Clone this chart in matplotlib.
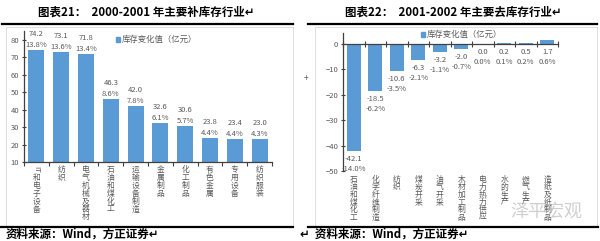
import matplotlib
matplotlib.use('Agg')
import matplotlib.pyplot as plt
from matplotlib.patches import Rectangle
from matplotlib.lines import Line2D
from matplotlib.transforms import blended_transform_factory

plt.rcParams['font.family'] = ['Noto Sans CJK SC', 'DejaVu Sans']

# 图表21 data
cats_l = ['IT和电子设备', '纺织', '电气机械及器材', '石油和煤化工', '运输设备制造',
          '金属制品', '化工制品', '有色金属', '专用设备', '纺织服装']
vals_l = [74.2, 73.1, 71.8, 46.3, 42.0, 32.6, 30.6, 23.8, 23.4, 23.0]
pcts_l = ['13.8%', '13.6%', '13.4%', '8.6%', '7.8%', '6.1%', '5.7%', '4.4%', '4.4%', '4.3%']

# 图表22 data
cats_r = ['石油和煤化工', '化学纤维制造', '纺织', '煤炭开采', '油气开采',
          '木材加工制品', '电力热力供应', '水的生产', '燃气生产', '造纸及纸制品']
vals_r = [-42.1, -18.5, -10.6, -6.3, -3.2, -2.0, 0.0, 0.2, 0.5, 1.7]
pcts_r = ['-14.0%', '-6.2%', '-3.5%', '-2.1%', '-1.1%', '-0.7%', '0.0%', '0.1%', '0.2%', '0.6%']

BLUE = '#5B9BD5'
GREY = '#595959'
W, H = 600, 241

fig = plt.figure(figsize=(6.0, 2.41), dpi=100)


def fx(px):
    return px / W


def fy(py):
    return 1 - py / H


def style_axes(ax):
    for s in ['top', 'right']:
        ax.spines[s].set_visible(False)
    ax.spines['left'].set_color('#404040')
    ax.spines['bottom'].set_color('#404040')
    ax.spines['left'].set_linewidth(0.9)
    ax.spines['bottom'].set_linewidth(0.9)
    ax.tick_params(axis='y', labelsize=5.5, labelcolor=GREY, length=3, width=0.8,
                   direction='inout', color='#404040', pad=2)
    ax.patch.set_alpha(0)


def vertical_label(ax, x, text, ytop_px, step=7.9, size=5.6):
    # stack characters one under another, Excel style
    trans = blended_transform_factory(ax.transData, fig.transFigure)
    y = ytop_px
    if text.startswith('IT'):
        ax.text(x, fy(y), 'IT', rotation=270, ha='center', va='top',
                fontsize=size, color=GREY, transform=trans)
        text = text[2:]
        y += 8
    for ch in text:
        ax.text(x, fy(y + step / 2), ch, ha='center', va='center', fontsize=size,
                color=GREY, transform=trans)
        y += step


def cat_ticks(ax, n, down=3, up=0):
    # tick marks between categories
    ax.set_xticks([k - 0.5 for k in range(n + 1)])
    ax.set_xticklabels([])
    ax.tick_params(axis='x', length=down + up, width=0.8,
                   direction='inout' if up else 'out', color='#404040')


# ---------------- left chart ----------------
axl = fig.add_axes([fx(24), fy(162), fx(272 - 24), fy(31) - fy(162)])
x = list(range(len(vals_l)))
axl.bar(x, [v - 10 for v in vals_l], bottom=10, width=0.65, color=BLUE)
axl.set_xlim(-0.5, len(vals_l) - 0.5)
axl.set_ylim(10, 85)
axl.set_yticks(range(10, 81, 10))
style_axes(axl)
cat_ticks(axl, len(vals_l))
for i, (v, p) in enumerate(zip(vals_l, pcts_l)):
    axl.annotate(f'{v:.1f}', (i, v), xytext=(0, 16), textcoords='offset pixels',
                 ha='center', va='center', fontsize=5.5, color=GREY)
    axl.annotate(p, (i, v), xytext=(0, 5), textcoords='offset pixels',
                 ha='center', va='center', fontsize=5.5, color=GREY)
for i, c in enumerate(cats_l):
    vertical_label(axl, i, c, 166)
fig.patches.append(Rectangle((fx(116), fy(42)), fx(4), fy(37) - fy(42), color=BLUE,
                             transform=fig.transFigure, figure=fig))
fig.text(fx(122), fy(39.5), '库存变化值（亿元）', fontsize=6, color=GREY, va='center')

# ---------------- right chart ----------------
axr = fig.add_axes([fx(343), fy(171), fx(558 - 343), fy(33) - fy(171)])
x = list(range(len(vals_r)))
axr.bar(x, vals_r, width=0.65, color=BLUE)
axr.set_xlim(-0.5, len(vals_r) - 0.5)
axr.set_ylim(-50, 4.3)
axr.set_yticks(range(-50, 1, 10))
style_axes(axr)
axr.spines['bottom'].set_position(('data', 0))
cat_ticks(axr, len(vals_r), down=2, up=2)
for i, (v, p) in enumerate(zip(vals_r, pcts_r)):
    base = min(v, 0)
    axr.annotate(f'{v:.1f}', (i, base), xytext=(0, -8), textcoords='offset pixels',
                 ha='center', va='center', fontsize=5.5, color=GREY)
    axr.annotate(p, (i, base), xytext=(0, -18), textcoords='offset pixels',
                 ha='center', va='center', fontsize=5.5, color=GREY)
for i, c in enumerate(cats_r):
    vertical_label(axr, i, c, 176, step=7.6)
fig.patches.append(Rectangle((fx(421), fy(37)), fx(4), fy(32) - fy(37), color=BLUE,
                             transform=fig.transFigure, figure=fig))
fig.text(fx(427), fy(34.5), '库存变化值（亿元）', fontsize=6, color=GREY, va='center')

# ---------------- frames, titles, rules ----------------
for (x0, x1, y0, y1) in [(6, 293, 27, 226), (315, 597, 27, 226)]:
    fig.patches.append(Rectangle((fx(x0), fy(y1)), fx(x1 - x0), fy(y0) - fy(y1), fill=False,
                                 edgecolor='#D9D9D9', lw=0.6, transform=fig.transFigure,
                                 figure=fig))
for (x0, x1, y) in [(2, 293, 24), (0, 293, 227), (308, 597, 24), (308, 598, 227)]:
    fig.lines.append(Line2D([fx(x0), fx(x1)], [fy(y), fy(y)], color='black', lw=1.6,
                            transform=fig.transFigure, figure=fig))

fig.text(fx(146), fy(12), '图表21：  2000-2001 年主要补库存行业↵', fontsize=8.3,
         fontweight='semibold', ha='center', va='center', color='black')
fig.text(fx(453), fy(12), '图表22：  2001-2002 年主要去库存行业↵', fontsize=8.3,
         fontweight='semibold', ha='center', va='center', color='black')
fig.text(fx(6), fy(234), '资料来源：Wind，方正证券↵', fontsize=8.3, fontweight='bold',
         ha='left', va='center', color='black')
fig.text(fx(300), fy(234), '↵  资料来源：Wind，方正证券↵', fontsize=8.3, fontweight='bold',
         ha='left', va='center', color='black')
fig.text(fx(306), fy(78), '+', fontsize=6, color=GREY, ha='center', va='center')
fig.text(fx(582), fy(212), '泽平宏观', fontsize=13, color='#B0B0B0', ha='right', va='center',
         alpha=0.6)

fig.savefig('out.png', dpi=100)
